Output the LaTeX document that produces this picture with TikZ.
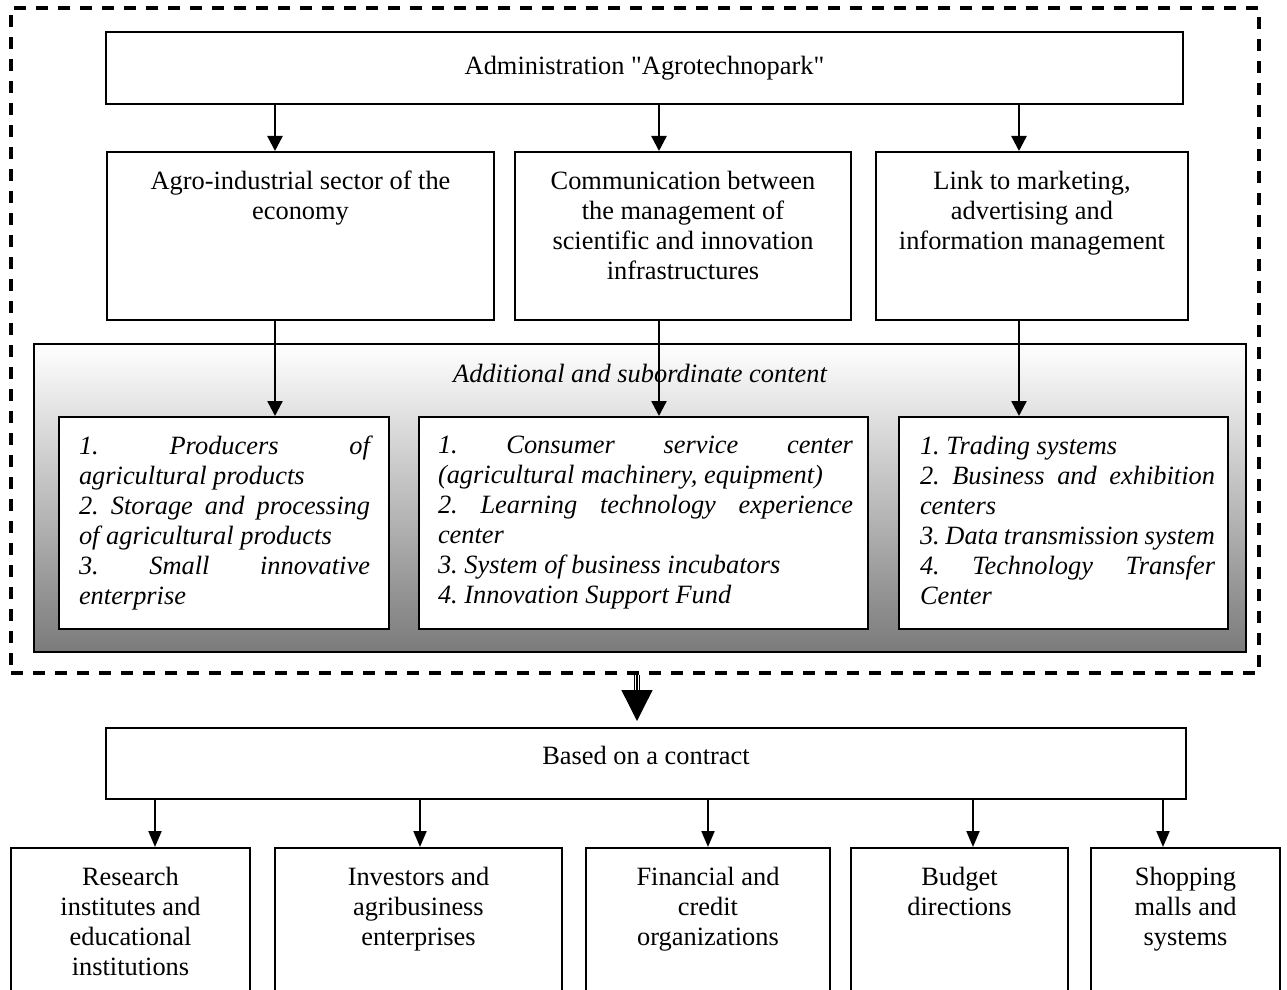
\documentclass[tikz,border=0pt]{standalone}
\usepackage{fontspec}
\setmainfont{Liberation Serif}
\usetikzlibrary{arrows.meta}
\newcommand{\topbox}[5]{\hspace*{#1}\parbox[c][#4][t]{#2}{#5}\hspace*{#3}}
\newcommand{\dq}{\XeTeXglyph\XeTeXcharglyph"22\relax}
\tolerance=10000
\hyphenpenalty=10000
\frenchspacing
\begin{document}
\fontsize{13.2}{15}\selectfont
\begin{tikzpicture}[x=0.5pt, y=-0.5pt,
	box/.style={draw, line width=1pt, inner sep=0pt, fill=white},
	arr/.style={line width=1.2pt, -{Triangle[width=7.5pt,length=7.5pt]}},
	arrsmall/.style={line width=1pt, -{Triangle[width=6.5pt,length=8pt]}}]
\useasboundingbox (0,0) rectangle (1287,990);
\clip (0,0) rectangle (1287,990);
% the park
\node[draw, line width=1.6pt, dash pattern=on 6pt off 5pt, minimum width=624pt, minimum height=332.5pt] (park) at (635,340.5) {};
\node[box, minimum width=538.5pt, minimum height=36pt] (admin) at (644.5,68) {Administration \dq Agrotechnopark\dq};
\node[box, inner ysep=9.5pt] (agro) at (300.5,236) {\topbox{8pt}{177.5pt}{8pt}{65pt}{\centering Agro-industrial sector of the\\ economy}};
\node[box, inner ysep=9.5pt] (comm) at (683,236) {\topbox{6pt}{156pt}{6pt}{65pt}{\centering Communication between\\ the management of\\ scientific and innovation\\ infrastructures}};
\node[box, inner ysep=9.5pt] (link) at (1032,236) {\topbox{6pt}{144pt}{6pt}{65pt}{\centering Link to marketing,\\ advertising and\\ information management}};
\node[draw, line width=1pt, top color=white, bottom color=black!52, minimum width=606pt, minimum height=154pt] (extra) at (640,498) {};
\node[font=\itshape] (extratitle) at (640,373) {Additional and subordinate content};
\node[box, inner ysep=9.5pt] (lista) at (224,523) {\topbox{10pt}{145.5pt}{9.5pt}{87pt}{\itshape
	1. Producers of\linebreak agricultural products\par
	2. Storage and processing\linebreak of agricultural products\par
	3. Small innovative\linebreak enterprise}};
\node[box, inner ysep=9.5pt] (listb) at (643.5,523) {\topbox{9.5pt}{207.5pt}{7.5pt}{87pt}{\itshape
	1. Consumer service center\linebreak (agricultural machinery, equipment)\par
	2. Learning technology experience\linebreak center\par
	3. System of business incubators\par
	4. Innovation Support Fund}};
\node[box, inner ysep=9.5pt] (listc) at (1063.5,523) {\topbox{10.5pt}{147.5pt}{6.5pt}{87pt}{\itshape
	1. Trading systems\par
	2. Business and exhibition\linebreak centers\par
	3. Data transmission system\par
	4. Technology Transfer\linebreak Center}};
% partners
\node[box, inner ysep=9.3pt] (contract) at (646,763.5) {\topbox{6pt}{528pt}{6pt}{16.9pt}{\centering Based on a contract}};
\node[box, inner ysep=9.5pt] (res) at (130.5,926.5) {\topbox{6pt}{107.5pt}{6pt}{59.5pt}{\centering Research\\ institutes and\\ educational\\ institutions}};
\node[box, inner ysep=9.5pt] (inv) at (418.5,926.5) {\topbox{6pt}{131.5pt}{6pt}{59.5pt}{\centering Investors and\\ agribusiness\\ enterprises}};
\node[box, inner ysep=9.5pt] (fin) at (708,926.5) {\topbox{6pt}{110pt}{6pt}{59.5pt}{\centering Financial and\\ credit\\ organizations}};
\node[box, inner ysep=9.5pt] (bud) at (959.5,926.5) {\topbox{6pt}{96.5pt}{6pt}{59.5pt}{\centering Budget\\ directions}};
\node[box, inner ysep=9.5pt] (shop) at (1185.5,926.5) {\topbox{6pt}{82.5pt}{6pt}{59.5pt}{\centering Shopping\\ malls and\\ systems}};
\foreach \n/\m/\x in {agro/lista/275, comm/listb/659, link/listc/1019}
{
	\draw[arr] (admin.south -| \x,0) -- (\n.north -| \x,0);
	\draw[arr] (\n.south -| \x,0) -- (\m.north -| \x,0);
}
\draw[double, double distance=2pt, line width=0.7pt] (park.south -| 637,0) -- ++(0,18);
\draw[line width=0.7pt, -{Triangle[width=15.5pt,length=15.5pt]}, shorten >=3pt] (park.south -| 637,0) -- (contract.north -| 637,0);
\foreach \n/\x in {res/155, inv/420, fin/708, bud/973, shop/1163}
	\draw[arrsmall] (contract.south -| \x,0) -- (\n.north -| \x,0);
\end{tikzpicture}
\end{document}
